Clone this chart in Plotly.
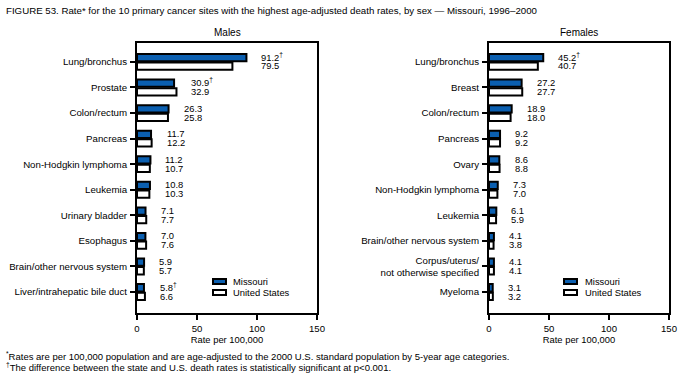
import plotly.graph_objects as go

male_sites = ["Lung/bronchus", "Prostate", "Colon/rectum", "Pancreas", "Non-Hodgkin lymphoma",
              "Leukemia", "Urinary bladder", "Esophagus", "Brain/other nervous system",
              "Liver/intrahepatic bile duct"]
male_mo = [91.2, 30.9, 26.3, 11.7, 11.2, 10.8, 7.1, 7.0, 5.9, 5.8]
male_us = [79.5, 32.9, 25.8, 12.2, 10.7, 10.3, 7.7, 7.6, 5.7, 6.6]
male_sig = [True, True, False, False, False, False, False, False, False, True]

female_sites = ["Lung/bronchus", "Breast", "Colon/rectum", "Pancreas", "Ovary",
                "Non-Hodgkin lymphoma", "Leukemia", "Brain/other nervous system",
                "Corpus/uterus/<br>not otherwise specified", "Myeloma"]
female_mo = [45.2, 27.2, 18.9, 9.2, 8.6, 7.3, 6.1, 4.1, 4.1, 3.1]
female_us = [40.7, 27.7, 18.0, 9.2, 8.8, 7.0, 5.9, 3.8, 4.1, 3.2]
female_sig = [True, False, False, False, False, False, False, False, False, False]

x_ticks = [0, 50, 100, 150]
series_names = ["Missouri", "United States"]

FONT = "Liberation Sans, Arial, sans-serif"
BLUE = "#0b5fb0"
W, H = 683, 381
FS = 9.4
TFS = 9.7

fig = go.Figure()

panels = [
    ("x", "y", male_sites, male_mo, male_us, male_sig),
    ("x2", "y2", female_sites, female_mo, female_us, female_sig),
]

for xa, ya, sites, mo, us, sig in panels:
    fig.add_trace(go.Bar(
        x=mo, y=sites, orientation="h", name=series_names[0], xaxis=xa, yaxis=ya,
        marker=dict(color=BLUE, line=dict(color="black", width=2)),
        showlegend=False, hoverinfo="skip"))
    fig.add_trace(go.Bar(
        x=us, y=sites, orientation="h", name=series_names[1], xaxis=xa, yaxis=ya,
        marker=dict(color="white", line=dict(color="black", width=2)),
        showlegend=False, hoverinfo="skip"))
    for s, m, u, g in zip(sites, mo, us, sig):
        xm = max(m, u)
        fig.add_annotation(x=xm, y=s, xref=xa, yref=ya, xanchor="left", yanchor="middle",
                           xshift=13, yshift=5, showarrow=False,
                           text=f"{m:.1f}" + ("<sup>†</sup>" if g else ""),
                           font=dict(size=FS, family=FONT, color="black"))
        fig.add_annotation(x=xm, y=s, xref=xa, yref=ya, xanchor="left", yanchor="middle",
                           xshift=13, yshift=-4, showarrow=False,
                           text=f"{u:.1f}",
                           font=dict(size=FS, family=FONT, color="black"))

ydom = [1 - 313 / H, 1 - 43 / H]
axis_common = dict(showline=True, linecolor="black", linewidth=2, mirror=True,
                   ticks="outside", ticklen=5, tickwidth=2, tickcolor="black",
                   showgrid=False, zeroline=False, automargin=False)

xtitle = dict(text="Rate per 100,000", font=dict(size=FS, family=FONT, color="black"), standoff=2)
yfont = dict(size=TFS, family=FONT, color="black")
xfont = dict(size=9.6, family=FONT, color="black")
fig.update_layout(
    width=W, height=H,
    margin=dict(l=0, r=0, t=0, b=0),
    paper_bgcolor="white", plot_bgcolor="white",
    barmode="group", bargap=0.33, bargroupgap=0.15,
    font=dict(family=FONT, size=FS, color="black"),
    showlegend=False,
    xaxis=dict(domain=[137 / W, 317 / W], range=[0, 150], tickvals=x_ticks, anchor="y",
               title=xtitle, tickfont=xfont, **axis_common),
    xaxis2=dict(domain=[489 / W, 669 / W], range=[0, 150], tickvals=x_ticks, anchor="y2",
                title=xtitle, tickfont=xfont, **axis_common),
    yaxis=dict(domain=ydom, range=[9.82, -0.74], anchor="x", ticklabelstandoff=1,
               tickfont=yfont, **axis_common),
    yaxis2=dict(domain=ydom, range=[9.82, -0.74], anchor="x2", ticklabelstandoff=1,
                tickfont=yfont, **axis_common),
)

# Legend glyphs and labels (one legend per panel)
legend_pos = [(213, 231), (564, 583)]
for (gx, tx) in legend_pos:
    for i, (name, fill) in enumerate(zip(series_names, [BLUE, "white"])):
        y0 = 279 + i * 11
        fig.add_shape(type="rect", xref="paper", yref="paper",
                      x0=gx / W, x1=(gx + 13) / W, y0=1 - (y0 + 5) / H, y1=1 - y0 / H,
                      fillcolor=fill, line=dict(color="black", width=2))
        fig.add_annotation(x=tx / W, y=1 - (y0 + 2.5) / H, xref="paper", yref="paper",
                           xanchor="left", yanchor="middle", showarrow=False, text=name,
                           font=dict(size=FS, family=FONT, color="black"))

# Title, subplot titles and footnotes
fig.add_annotation(x=4 / W, y=1 - 10 / H, xref="paper", yref="paper", xanchor="left",
                   yanchor="middle", showarrow=False,
                   text="FIGURE 53. Rate* for the 10 primary cancer sites with the highest age-adjusted death rates, by sex — Missouri, 1996–2000",
                   font=dict(size=9.7, family=FONT, color="black"))
fig.add_annotation(x=227 / W, y=1 - 32 / H, xref="paper", yref="paper", xanchor="center",
                   yanchor="middle", showarrow=False, text="Males",
                   font=dict(size=10, family=FONT, color="black"))
fig.add_annotation(x=579 / W, y=1 - 32 / H, xref="paper", yref="paper", xanchor="center",
                   yanchor="middle", showarrow=False, text="Females",
                   font=dict(size=10, family=FONT, color="black"))
fig.add_annotation(x=4 / W, y=1 - 356 / H, xref="paper", yref="paper", xanchor="left",
                   yanchor="middle", showarrow=False,
                   text="<sup>*</sup>Rates are per 100,000 population and are age-adjusted to the 2000 U.S. standard population by 5-year age categories.",
                   font=dict(size=9.5, family=FONT, color="black"))
fig.add_annotation(x=4 / W, y=1 - 367 / H, xref="paper", yref="paper", xanchor="left",
                   yanchor="middle", showarrow=False,
                   text="<sup>†</sup>The difference between the state and U.S. death rates is statistically significant at p<0.001.",
                   font=dict(size=9.5, family=FONT, color="black"))

fig.write_html("out.html", config={"displayModeBar": False},
               post_script="document.body.style.margin='0px';")
